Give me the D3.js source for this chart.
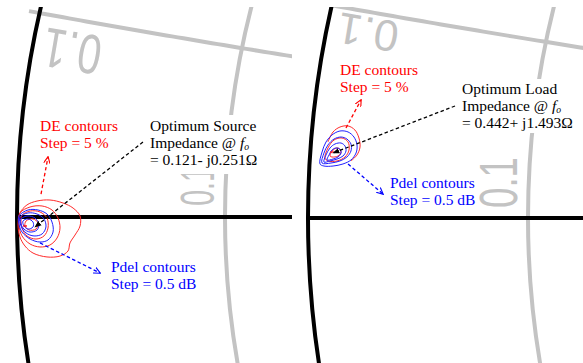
<!DOCTYPE html>
<html><head><meta charset="utf-8">
<script src="https://cdn.jsdelivr.net/npm/d3@7"></script>
<style>body{margin:0;background:#fff}svg{display:block}</style>
</head><body><svg id="c" width="583" height="363"></svg>
<script>
// ---------------- data (reflection-coefficient plane, Γ = re + j·im) ----------------
const panelNames = ["source", "load"];
const gridResistance = [0.1];
const gridReactance = [0.1];
const gridLabelText = "0.1";

const optimumTitles = ["Optimum Source", "Optimum Load"];
const optimumValues = ["= 0.121- j0.251Ω", "= 0.442+ j1.493Ω"];
const deLabel = ["DE contours", "Step = 5 %"];
const pdelLabel = ["Pdel contours", "Step = 0.5 dB"];

// Source-pull drain-efficiency contours
const sourceDE = [
  [[-0.9974,0.0039],[-0.9913,0.0117],[-0.9825,0.0155],[-0.9712,0.0165],[-0.9598,0.0136],[-0.9510,0.0087],[-0.9449,0.0010],[-0.9449,-0.0087],[-0.9493,-0.0175],[-0.9537,-0.0252],[-0.9554,-0.0330],[-0.9624,-0.0379],[-0.9738,-0.0388],[-0.9860,-0.0350],[-0.9930,-0.0282],[-0.9974,-0.0194],[-0.9991,-0.0078]],
  [[-0.9974,0.0039],[-0.9886,0.0097],[-0.9781,0.0107],[-0.9694,0.0068],[-0.9642,-0.0010],[-0.9624,-0.0107],[-0.9650,-0.0204],[-0.9712,-0.0272],[-0.9799,-0.0291],[-0.9886,-0.0262],[-0.9956,-0.0184],[-0.9983,-0.0078]],
  [[-0.9956,0.0019],[-0.9886,0.0058],[-0.9799,0.0049],[-0.9738,-0.0010],[-0.9729,-0.0107],[-0.9764,-0.0184],[-0.9834,-0.0214],[-0.9913,-0.0184],[-0.9956,-0.0107],[-0.9965,-0.0029]],
  [[-0.9921,-0.0039],[-0.9860,-0.0019],[-0.9816,-0.0058],[-0.9834,-0.0117],[-0.9895,-0.0126],[-0.9930,-0.0087]]
];
// Source-pull delivered-power contours
const sourcePdel = [
  [[-0.9983,0.0010],[-0.9904,0.0068],[-0.9816,0.0068],[-0.9738,0.0029],[-0.9694,-0.0049],[-0.9685,-0.0146],[-0.9729,-0.0223],[-0.9799,-0.0243],[-0.9886,-0.0214],[-0.9956,-0.0146],[-0.9983,-0.0068]],
  [[-0.9974,0.0000],[-0.9904,0.0039],[-0.9825,0.0029],[-0.9764,-0.0019],[-0.9747,-0.0097],[-0.9781,-0.0165],[-0.9851,-0.0184],[-0.9921,-0.0155],[-0.9965,-0.0087]],
  [[-0.9965,-0.0019],[-0.9904,0.0010],[-0.9843,-0.0010],[-0.9808,-0.0068],[-0.9825,-0.0126],[-0.9886,-0.0146],[-0.9939,-0.0117],[-0.9965,-0.0068]],
  [[-0.9948,-0.0039],[-0.9904,-0.0019],[-0.9860,-0.0049],[-0.9860,-0.0097],[-0.9904,-0.0117],[-0.9939,-0.0087]]
];
// Load-pull contours
const loadDEOpen = [
  [[-0.9835,0.0708],[-0.9793,0.0801],[-0.9736,0.0847],[-0.9669,0.0857],[-0.9612,0.0819],[-0.9579,0.0745],[-0.9570,0.0661],[-0.9595,0.0587],[-0.9645,0.0531]]
];
const loadDE = [
  [[-0.9860,0.0559],[-0.9835,0.0652],[-0.9785,0.0726],[-0.9719,0.0745],[-0.9669,0.0708],[-0.9661,0.0633],[-0.9694,0.0568],[-0.9760,0.0531],[-0.9835,0.0531]],
  [[-0.9818,0.0577],[-0.9793,0.0633],[-0.9752,0.0652],[-0.9727,0.0614],[-0.9752,0.0577],[-0.9802,0.0568]]
];
const loadPdel = [
  [[-0.9901,0.0503],[-0.9884,0.0614],[-0.9851,0.0708],[-0.9802,0.0773],[-0.9736,0.0810],[-0.9669,0.0801],[-0.9620,0.0754],[-0.9595,0.0680],[-0.9603,0.0605],[-0.9645,0.0540],[-0.9711,0.0503],[-0.9793,0.0484],[-0.9868,0.0484]],
  [[-0.9884,0.0512],[-0.9868,0.0605],[-0.9835,0.0680],[-0.9785,0.0735],[-0.9727,0.0754],[-0.9678,0.0735],[-0.9645,0.0689],[-0.9645,0.0624],[-0.9678,0.0568],[-0.9736,0.0531],[-0.9810,0.0512]],
  [[-0.9868,0.0521],[-0.9851,0.0587],[-0.9818,0.0652],[-0.9777,0.0689],[-0.9727,0.0698],[-0.9694,0.0670],[-0.9686,0.0624],[-0.9711,0.0577],[-0.9760,0.0549],[-0.9818,0.0531]],
  [[-0.9843,0.0540],[-0.9826,0.0587],[-0.9802,0.0633],[-0.9769,0.0652],[-0.9736,0.0642],[-0.9727,0.0605],[-0.9752,0.0568],[-0.9793,0.0549]]
];
// Optimum points (max DE marker)
const sourceOptimum = [-0.9930, -0.0087];
const loadOptimum = [-0.9802, 0.0614];
// Annotation arrows [from, to]
const sourceArrowDE = [[-0.9790, 0.0223], [-0.9729, 0.0583]];
const sourceArrowOpt = [[-0.8899, 0.0728], [-0.9843, -0.0097]];
const sourceArrowPdel = [[-0.9799, -0.0252], [-0.9274, -0.0544]];
const loadArrowDE = [[-0.9686, 0.0838], [-0.9562, 0.1099]];
const loadArrowOpt = [[-0.8785, 0.1043], [-0.9793, 0.0605]];
const loadArrowPdel = [[-0.9669, 0.0503], [-0.9380, 0.0223]];

// ---------------- layout ----------------
const W = 583, H = 363;
const GRAY = "#c3c3c3";
const layout = [
  { clip: [0, 7, 292, 356], x0: 17, y0: 217, sx: 1144, sy: 1030, arcStart: -0.9895,
    de: [40, 131], opt: [150, 131], pdel: [111, 272], box: [146, 115, 120, 59],
    topLbl: { c: [72, 52], a: 189.7, fs: 56, k: 0.75 },
    vLbl: { c: [196, 186], a: -90, fs: 49, k: 0.58 },
    DE: sourceDE, DEopen: [], Pdel: sourcePdel, optimum: sourceOptimum,
    arrows: [sourceArrowDE, sourceArrowOpt, sourceArrowPdel] },
  { clip: [300, 7, 283, 356], x0: 308, y0: 218, sx: 1210, sy: 1074, arcStart: -0.99,
    de: [340, 75], opt: [462, 94], pdel: [390, 188], box: [457, 79, 110, 54],
    topLbl: { c: [368, 33], a: 189.5, fs: 44, k: 1.0 },
    vLbl: { c: [497.5, 182.5], a: -90, fs: 54, k: 0.68 },
    DE: loadDE, DEopen: loadDEOpen, Pdel: loadPdel, optimum: loadOptimum,
    arrows: [loadArrowDE, loadArrowOpt, loadArrowPdel] }
];
const LH = 17;
const textFont = "'Liberation Serif','Times New Roman',serif";
const textSize = 15.5;

const svg = d3.select("#c");
svg.append("rect").attr("width", W).attr("height", H).attr("fill", "#fff");
const defs = svg.append("defs");

function marker(id, color, filled) {
  const m = defs.append("marker").attr("id", id).attr("viewBox", "0 0 10 10")
    .attr("refX", 9).attr("refY", 5).attr("markerWidth", 7).attr("markerHeight", 7)
    .attr("markerUnits", "userSpaceOnUse").attr("orient", "auto");
  if (filled) m.append("path").attr("d", "M0,1 L10,5 L0,9 Z").attr("fill", color);
  else m.append("path").attr("d", "M0,0.5 L9.5,5 L0,9.5").attr("fill", "none")
    .attr("stroke", color).attr("stroke-width", 1.6);
}
marker("mRed", "#ff0000", false);
marker("mBlack", "#000", true);
marker("mBlue", "#0000ff", false);
const arrowStyle = [["#ff0000", "mRed"], ["#000", "mBlack"], ["#0000ff", "mBlue"]];

layout.forEach((L, pi) => {
  const cid = "clip" + pi;
  defs.append("clipPath").attr("id", cid).append("rect")
    .attr("x", L.clip[0]).attr("y", L.clip[1]).attr("width", L.clip[2]).attr("height", L.clip[3]);
  const g = svg.append("g").attr("clip-path", `url(#${cid})`).attr("class", panelNames[pi]);
  const x = d3.scaleLinear().domain([-1, 0]).range([L.x0, L.x0 + L.sx]);
  const y = d3.scaleLinear().domain([0, 1]).range([L.y0, L.y0 - L.sy]);
  const kx = x(1) - x(0), ky = y(0) - y(1);

  // constant-resistance circles
  gridResistance.forEach(r => {
    g.append("ellipse").attr("cx", x(r / (1 + r))).attr("cy", y(0))
      .attr("rx", kx / (1 + r)).attr("ry", ky / (1 + r))
      .attr("fill", "none").attr("stroke", GRAY).attr("stroke-width", 4);
  });
  // constant-reactance arcs
  gridReactance.forEach(xv => {
    const R = 1 / xv, pts = [];
    for (let gr = L.arcStart; gr <= -0.5; gr += 0.005)
      pts.push([gr, R - Math.sqrt(R * R - (gr - 1) * (gr - 1))]);
    g.append("path").attr("d", d3.line().x(d => x(d[0])).y(d => y(d[1]))(pts))
      .attr("fill", "none").attr("stroke", GRAY).attr("stroke-width", 4);
  });
  // grid labels
  [L.topLbl, L.vLbl].forEach(t => {
    g.append("text").attr("transform", `translate(${t.c[0]},${t.c[1]}) rotate(${t.a}) scale(${t.k},1)`)
      .attr("text-anchor", "middle").attr("dy", "0.36em")
      .attr("font-family", "'Liberation Sans',Arial,sans-serif").attr("font-size", t.fs)
      .attr("fill", GRAY).text(gridLabelText);
  });
  // unit circle and real axis
  g.append("ellipse").attr("cx", x(0)).attr("cy", y(0)).attr("rx", kx).attr("ry", ky)
    .attr("fill", "none").attr("stroke", "#000").attr("stroke-width", 4);
  g.append("line").attr("x1", x(-1)).attr("x2", x(1)).attr("y1", y(0)).attr("y2", y(0))
    .attr("stroke", "#000").attr("stroke-width", 4);

  // white text box of optimum annotation
  g.append("rect").attr("x", L.box[0]).attr("y", L.box[1]).attr("width", L.box[2]).attr("height", L.box[3]).attr("fill", "#fff");

  // contours
  const closed = d3.line().x(d => x(d[0])).y(d => y(d[1])).curve(d3.curveCatmullRomClosed.alpha(0.5));
  const open = d3.line().x(d => x(d[0])).y(d => y(d[1])).curve(d3.curveCatmullRom.alpha(0.5));
  L.DE.forEach(c => g.append("path").attr("d", closed(c)).attr("fill", "none").attr("stroke", "#ff2a2a").attr("stroke-width", 1));
  L.DEopen.forEach(c => g.append("path").attr("d", open(c)).attr("fill", "none").attr("stroke", "#ff2a2a").attr("stroke-width", 1));
  L.Pdel.forEach(c => g.append("path").attr("d", closed(c)).attr("fill", "none").attr("stroke", "#2020ff").attr("stroke-width", 1));
  g.append("line").attr("x1", x(L.optimum[0]) - 2).attr("x2", x(L.optimum[0]) + 2)
    .attr("y1", y(L.optimum[1])).attr("y2", y(L.optimum[1])).attr("stroke", "#ff0000").attr("stroke-width", 1.2);

  // arrows
  L.arrows.forEach((a, i) => {
    g.append("line").attr("x1", x(a[0][0])).attr("y1", y(a[0][1])).attr("x2", x(a[1][0])).attr("y2", y(a[1][1]))
      .attr("stroke", arrowStyle[i][0]).attr("stroke-width", 1.3).attr("stroke-dasharray", "3.5,2.5")
      .attr("marker-end", `url(#${arrowStyle[i][1]})`);
  });

  // texts
  const txt = (px, py, color) => g.append("text").attr("x", px).attr("y", py)
    .attr("font-family", textFont).attr("font-size", textSize).attr("fill", color);
  deLabel.forEach((s, i) => txt(L.de[0], L.de[1] + i * LH, "#ff0000").text(s));
  pdelLabel.forEach((s, i) => txt(L.pdel[0], L.pdel[1] + i * LH, "#0000ff").text(s));
  txt(L.opt[0], L.opt[1], "#000").text(optimumTitles[pi]);
  const t2 = txt(L.opt[0], L.opt[1] + LH, "#000");
  t2.append("tspan").text("Impedance @ ");
  t2.append("tspan").attr("font-style", "italic").text("f");
  t2.append("tspan").attr("font-style", "italic").attr("font-size", textSize * 0.62).attr("dy", 2).text("o");
  txt(L.opt[0], L.opt[1] + 2 * LH, "#000").text(optimumValues[pi]);
});
</script></body></html>
